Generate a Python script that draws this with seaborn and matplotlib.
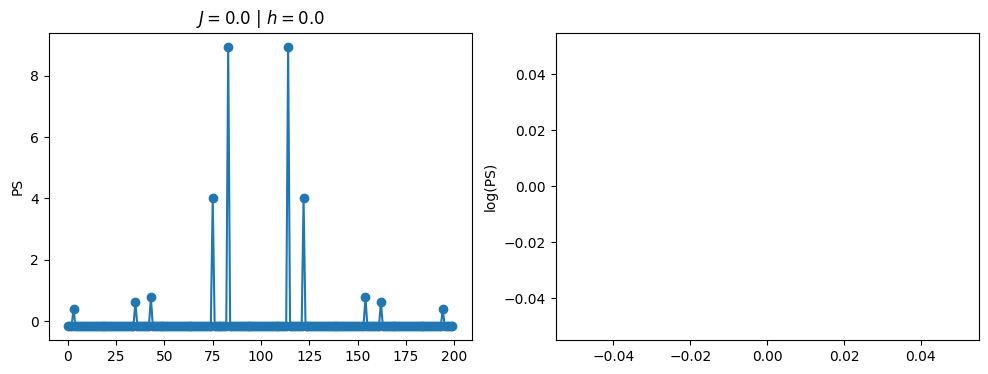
import numpy as np
import pandas as pd
import matplotlib
matplotlib.use('Agg')
import matplotlib.pyplot as plt
import seaborn as sns

# Power spectrum: flat baseline with a few peaks
n_points = 200
baseline = -0.16
peak_idx = [3, 35, 43, 75, 83, 114, 122, 154, 162, 194]
peak_vals = [0.40, 0.62, 0.78, 4.0, 8.95, 8.95, 4.0, 0.78, 0.62, 0.40]

ps = np.full(n_points, baseline)
ps[peak_idx] = peak_vals
df = pd.DataFrame({'k': np.arange(n_points), 'PS': ps})

# log(PS) panel ends up with nothing to draw
log_k = []
log_ps = []

fig = plt.figure(figsize=(9.88, 3.74), dpi=100)
ax1 = fig.add_axes([0.0491, 0.0909, 0.4283, 0.822])
ax2 = fig.add_axes([0.5624, 0.0909, 0.4281, 0.822])

sns.lineplot(data=df, x='k', y='PS', ax=ax1, marker='o', color='#1f77b4',
             markersize=6, markeredgecolor='#1f77b4', markeredgewidth=1,
             linewidth=1.5)
ax1.set_title(r'$J=0.0$ | $h=0.0$')
ax1.set_xlabel('')
ax1.set_ylabel('PS')

ax2.plot(log_k, log_ps)
ax2.set_ylabel('log(PS)')

fig.savefig('out.png', dpi=100)
